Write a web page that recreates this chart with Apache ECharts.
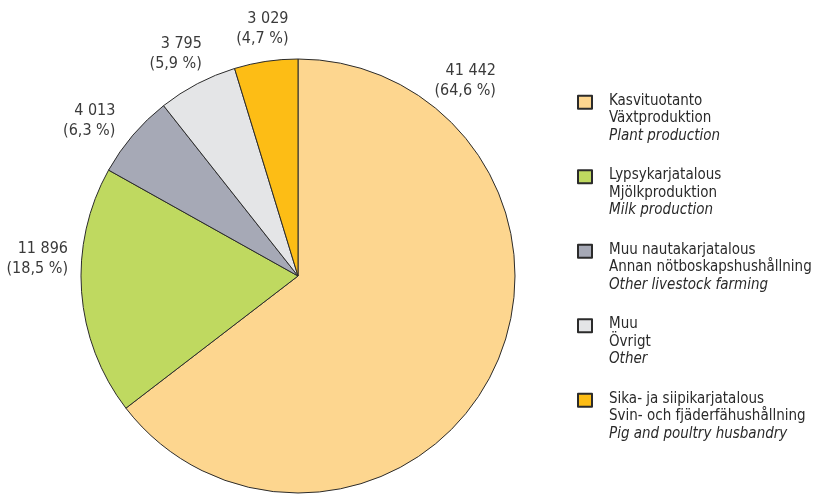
<!DOCTYPE html>
<html>
<head>
<meta charset="utf-8">
<script src="https://cdn.jsdelivr.net/npm/echarts@6/dist/echarts.min.js"></script>
<style>
html, body { margin: 0; padding: 0; background: #fff; }
#chart { width: 814px; height: 495px; }
</style>
</head>
<body>
<div id="chart"></div>
<script>
const namesFi = ['Kasvituotanto', 'Lypsykarjatalous', 'Muu nautakarjatalous', 'Muu', 'Sika- ja siipikarjatalous'];
const namesSv = ['Växtproduktion', 'Mjölkproduktion', 'Annan nötboskapshushållning', 'Övrigt', 'Svin- och fjäderfähushållning'];
const namesEn = ['Plant production', 'Milk production', 'Other livestock farming', 'Other', 'Pig and poultry husbandry'];
const values = [41442, 11896, 4013, 3795, 3029];
const shares = [64.6, 18.5, 6.3, 5.9, 4.7];
const colors = ['#fdd68f', '#bfd960', '#a6a9b6', '#e4e5e7', '#fdbd15'];

const CX = 298, CY = 276, R = 217;
const font = "'Liberation Sans Narrow', 'Arial Narrow', 'DejaVu Sans Condensed', sans-serif";

// right edge of each label: angle clockwise from 12 o'clock and distance from centre
const labelAngle = [45.4, 274.2, 310.3, 336.6, 357.8];
const labelDist = [278, 230.6, 239.4, 242, 247.2];

function fmt(n) {
    return String(n).replace(/\B(?=(\d{3})+(?!\d))/g, ' ');
}

let chart = echarts.init(document.getElementById('chart'));
chart.setOption({
    animation: false,
    legend: {
        orient: 'vertical',
        left: 577,
        top: 60,
        padding: 0,
        itemGap: -10,
        itemWidth: 14,
        itemHeight: 13,
        icon: 'rect',
        selectedMode: false,
        data: namesFi,
        formatter: function(name) {
            let i = namesFi.indexOf(name);
            return name + '\n' + namesSv[i] + '\n{en|' + namesEn[i] + '}';
        },
        textStyle: {
            fontFamily: font,
            fontSize: 15,
            color: '#2a2a2a',
            lineHeight: 17.5,
            padding: [32, 0, 0, 12],
            rich: {
                en: { fontFamily: font, fontSize: 15, fontStyle: 'italic', color: '#2a2a2a', lineHeight: 17.5 }
            }
        }
    },
    series: [{
        type: 'pie',
        center: [CX, CY],
        radius: R,
        startAngle: 90,
        clockwise: true,
        avoidLabelOverlap: false,
        emphasis: { disabled: true },
        itemStyle: { borderColor: '#2b2b2b', borderWidth: 1 },
        label: {
            show: true,
            position: 'outside',
            fontFamily: font,
            fontSize: 16,
            lineHeight: 20,
            color: '#3a3a3a',
            formatter: function(p) {
                return fmt(values[p.dataIndex]) + '\n(' + shares[p.dataIndex].toFixed(1).replace('.', ',') + ' %)';
            }
        },
        labelLine: { show: false },
        labelLayout: function(p) {
            let i = p.dataIndex;
            let a = labelAngle[i] * Math.PI / 180;
            return {
                x: CX + labelDist[i] * Math.sin(a),
                y: CY - labelDist[i] * Math.cos(a),
                align: 'right',
                verticalAlign: 'middle'
            };
        },
        data: values.map((v, i) => ({
            name: namesFi[i],
            value: v,
            itemStyle: { color: colors[i] }
        }))
    }]
});
</script>
</body>
</html>
